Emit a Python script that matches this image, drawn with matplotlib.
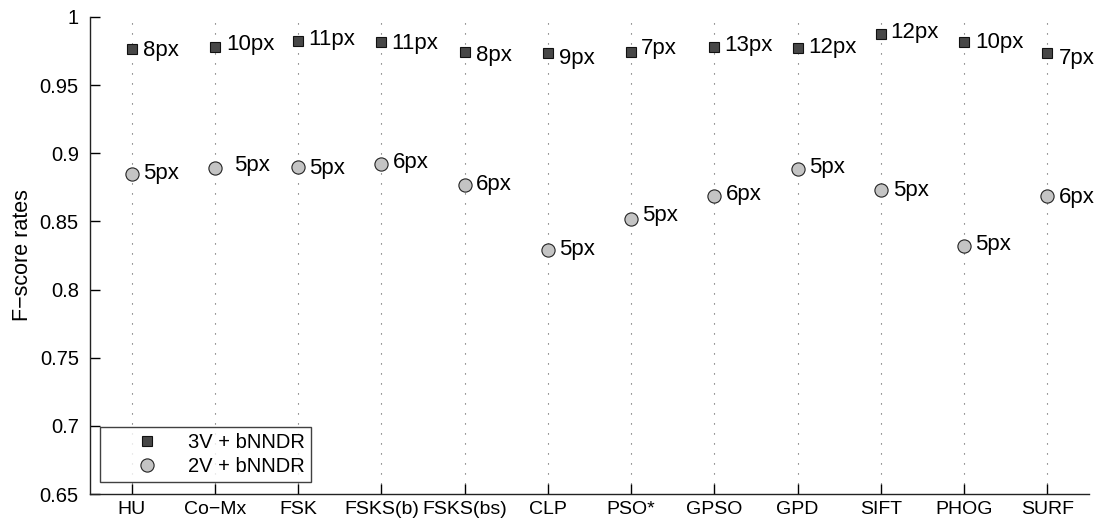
import matplotlib
matplotlib.use("Agg")
import matplotlib.pyplot as plt

methods = ["HU", "Co\u2212Mx", "FSK", "FSKS(b)", "FSKS(bs)", "CLP", "PSO*",
           "GPSO", "GPD", "SIFT", "PHOG", "SURF"]
f3v = [0.9766, 0.978, 0.9827, 0.9815, 0.9746, 0.9734, 0.9746, 0.978,
       0.9776, 0.9873, 0.9815, 0.9739]
f2v = [0.8851, 0.8892, 0.890, 0.8924, 0.877, 0.8294, 0.8521, 0.869,
       0.8885, 0.8729, 0.8318, 0.8685]
lab3v = ["8px", "10px", "11px", "11px", "8px", "9px", "7px", "13px",
         "12px", "12px", "10px", "7px"]
lab2v = ["5px", "5px", "5px", "6px", "6px", "5px", "5px", "6px",
         "5px", "5px", "5px", "6px"]
# label offsets in points (dx, dy)
off3v = [(8, -1), (8, 2), (7, 1), (7, -1), (8, -3), (8, -4), (7, 2), (7, 1),
         (8, 0), (7, 1), (8, 0), (8, -4)]
off2v = [(8, 0), (14, 2), (8, -1), (8, 1), (8, 0), (8, 0), (8, 2), (8, 1),
         (8, 1), (9, 0), (8, 1), (8, -1)]

yticks = [0.65, 0.7, 0.75, 0.8, 0.85, 0.9, 0.95, 1.0]
yticklabels = ["0.65", "0.7", "0.75", "0.8", "0.85", "0.9", "0.95", "1"]

plt.rcParams['font.family'] = ['Liberation Sans', 'DejaVu Sans']

fig = plt.figure(figsize=(11, 5.23), dpi=100)
ax = fig.add_axes([0.0818, 0.0554, 0.9082, 0.9121])

x = list(range(len(methods)))
for xi in x:
    ax.plot([xi, xi], [0.65, 1.0], color="#555555", lw=0.8,
            linestyle=(0, (1, 8)), zorder=1)

ax.plot(x, f3v, linestyle="none", marker="s", markersize=7.3,
        markerfacecolor="#474747", markeredgecolor="#111111", markeredgewidth=0.8,
        label="3V + bNNDR", zorder=3)
ax.plot(x, f2v, linestyle="none", marker="o", markersize=9.5,
        markerfacecolor="#c4c4c4", markeredgecolor="#222222", markeredgewidth=0.8,
        label="2V + bNNDR", zorder=3)

for xi, v, t, (dx, dy) in zip(x, f3v, lab3v, off3v):
    ax.annotate(t, (xi, v), xytext=(dx, dy), textcoords="offset points",
                ha="left", va="center", fontsize=16)
for xi, v, t, (dx, dy) in zip(x, f2v, lab2v, off2v):
    ax.annotate(t, (xi, v), xytext=(dx, dy), textcoords="offset points",
                ha="left", va="center", fontsize=16)

ax.set_xlim(-0.5, 11.5)
ax.set_ylim(0.65, 1.0)
ax.set_xticks(x)
ax.set_xticklabels(methods, fontsize=14)
ax.set_yticks(yticks)
ax.set_yticklabels(yticklabels, fontsize=14.5)
ax.tick_params(direction="in", length=7, width=1)
ax.tick_params(axis="x", pad=5)
ax.tick_params(axis="y", pad=8)
ax.set_ylabel("F\u2212score rates", fontsize=15.5)
ax.yaxis.set_label_coords(-0.057, 0.5)
for s in ["top", "right"]:
    ax.spines[s].set_visible(False)
for s in ["left", "bottom"]:
    ax.spines[s].set_linewidth(1)
    ax.spines[s].set_color("#222222")

leg = ax.legend(loc="lower left", bbox_to_anchor=(0.0105, 0.025), fontsize=14.5,
                frameon=True, fancybox=False, handletextpad=0.05, borderpad=0.3,
                labelspacing=0.25, handlelength=4.0, borderaxespad=0)
leg.get_frame().set_edgecolor("#111111")
leg.get_frame().set_linewidth(1)

fig.savefig("out.png", dpi=100)
